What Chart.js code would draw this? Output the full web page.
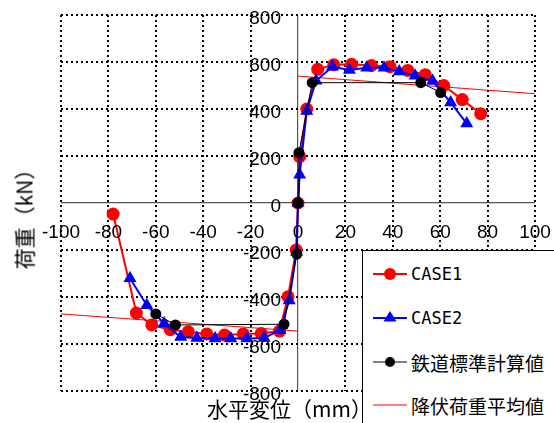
<!DOCTYPE html>
<html>
<head>
<meta charset="utf-8">
<script src="https://cdn.jsdelivr.net/npm/chart.js@4.4.0/dist/chart.umd.min.js"></script>
<style>
  body { margin: 0; background: #fff; }
  #wrap { position: relative; width: 554px; height: 423px; overflow: hidden; background: #fff; }
  .ttl { position: absolute; font-family: "Noto Sans CJK JP", sans-serif; font-size: 21px; color: #000; white-space: nowrap; line-height: 1; }
  #xTitle { left: 207px; top: 398px; }
  #yTitle { left: 24px; top: 214px; transform: translate(-50%, -50%) rotate(-90deg); }
  #legend { position: absolute; left: 362px; top: 250px; width: 230px; height: 200px; background: #fff; border: 1px solid #000; }
  .item { position: absolute; left: 10px; height: 24px; display: flex; align-items: center; white-space: nowrap; }
  .item svg { width: 34px; height: 24px; margin-right: 4px; }
  .lat { font-family: "DejaVu Sans Mono", monospace; font-size: 17px; }
  .cjk { font-family: "Noto Sans CJK JP", sans-serif; font-size: 19px; }
</style>
</head>
<body>
<div id="wrap">
  <canvas id="chart" width="554" height="423"></canvas>
  <div class="ttl" id="xTitle">水平変位（mm）</div>
  <div class="ttl" id="yTitle">荷重（kN）</div>
  <div id="legend"></div>
</div>
<script>
// 水平変位 (mm) / 荷重 (kN)
const case1X = [-78, -68.2, -61.7, -53.9, -46.3, -38.5, -31, -23.1, -15.5, -7.8, -4.2, -0.8, 0, 0.7, 3.7, 8.3, 15.1, 22.6, 31, 38.8, 46.3, 53.7, 61.5, 69.3, 77.1];
const case1Y = [-47, -468, -519, -539, -548, -557, -562, -557, -555, -545, -399, -200, 0, 197, 400, 569, 588, 590, 585, 580, 564, 546, 500, 440, 380];

const case2X = [-70.9, -63.8, -56.5, -49.5, -42.7, -35, -28.4, -21.6, -14.3, -7.6, -3.7, -0.6, 0, 0.7, 3.7, 7.6, 14.5, 21.7, 29, 36.3, 42.7, 49.4, 56.8, 64.4, 71.2];
const case2Y = [-320, -435, -513, -570, -574, -577, -577, -577, -574, -541, -415, -208, 0, 120, 392, 520, 580, 566, 576, 576, 560, 541, 519, 428, 338];

const calcX = [-60, -51.7, -5.9, -0.5, 0, 0.4, 6, 51.8, 60.2];
const calcY = [-472, -519, -516, -217, 0, 214, 512, 512, 470];

// two segments, null breaks the line
const avgX = [-100, 0, 0, 0, 100];
const avgY = [-472, -545, null, 540, 465];

const xTickLabels = ["-100", "-80", "-60", "-40", "-20", "0", "20", "40", "60", "80", "100"];
const yTickLabels = ["-800", "-600", "-400", "-200", "0", "200", "400", "600", "800"];

const seriesNames = ["CASE1", "CASE2", "鉄道標準計算値", "降伏荷重平均値"];

const toPoints = (xs, ys) => xs.map((x, i) => ({ x: x, y: ys[i] }));

// tick labels sit along the zero lines
const centerTicks = {
    id: "centerTicks",
    afterDatasetsDraw(chart) {
        const { ctx, scales: { x, y } } = chart;
        const x0 = x.getPixelForValue(0);
        const y0 = y.getPixelForValue(0);
        ctx.save();
        ctx.font = '19px "Liberation Sans", Arial, sans-serif';
        ctx.fillStyle = "#000";
        ctx.textBaseline = "alphabetic";
        ctx.textAlign = "center";
        xTickLabels.forEach((t) => {
            ctx.fillText(t, x.getPixelForValue(Number(t)), y0 + 35);
        });
        ctx.textAlign = "right";
        yTickLabels.forEach((t) => {
            ctx.fillText(t, x0 - 17, y.getPixelForValue(Number(t)) + 8.5);
        });
        ctx.restore();
    },
};

const gridOpts = {
    color: (c) => (c.tick && c.tick.value === 0 ? "#555" : "#000"),
    lineWidth: (c) => (c.tick && c.tick.value === 0 ? 1.2 : 2),
    drawTicks: false,
};
const borderOpts = {
    display: false,
    dash: (c) => (c.tick && c.tick.value === 0 ? [] : [2, 3]),
};

new Chart(document.getElementById("chart"), {
    type: "scatter",
    data: {
        datasets: [
            {
                label: seriesNames[0],
                data: toPoints(case1X, case1Y),
                showLine: true,
                borderColor: "#ff0000",
                backgroundColor: "#ff0000",
                borderWidth: 2,
                pointStyle: "circle",
                pointRadius: 6.5,
                pointBorderWidth: 0,
                order: 2,
            },
            {
                label: seriesNames[1],
                data: toPoints(case2X, case2Y),
                showLine: true,
                borderColor: "#0000ff",
                backgroundColor: "#0000ff",
                borderWidth: 2,
                pointStyle: "triangle",
                pointRadius: 7.5,
                pointBorderWidth: 0,
                order: 1,
            },
            {
                label: seriesNames[2],
                data: toPoints(calcX, calcY),
                showLine: true,
                borderColor: "#000",
                backgroundColor: "#000",
                borderWidth: 1,
                pointStyle: "circle",
                pointRadius: 5.5,
                pointBorderWidth: 0,
                order: 0,
            },
            {
                label: seriesNames[3],
                data: toPoints(avgX, avgY),
                showLine: true,
                spanGaps: false,
                borderColor: "#ff0000",
                borderWidth: 1,
                pointRadius: 0,
                order: 3,
            },
        ],
    },
    options: {
        responsive: false,
        animation: false,
        layout: { padding: { left: 61, right: 19, top: 15, bottom: 32 } },
        plugins: { legend: { display: false }, tooltip: { enabled: false } },
        scales: {
            x: {
                type: "linear",
                min: -100,
                max: 100,
                ticks: { display: false, stepSize: 20 },
                grid: gridOpts,
                border: borderOpts,
            },
            y: {
                type: "linear",
                min: -800,
                max: 800,
                ticks: { display: false, stepSize: 200 },
                grid: gridOpts,
                border: borderOpts,
            },
        },
    },
    plugins: [centerTicks],
});

// legend box (drawn over the lower right corner)
const legendMarks = [
    '<line x1="0" y1="12" x2="34" y2="12" stroke="#ff0000" stroke-width="2"/><circle cx="17" cy="12" r="6" fill="#ff0000"/>',
    '<line x1="0" y1="12" x2="34" y2="12" stroke="#0000ff" stroke-width="2"/><polygon points="17,5 23.5,15.5 10.5,15.5" fill="#0000ff"/>',
    '<line x1="0" y1="12" x2="34" y2="12" stroke="#000" stroke-width="1"/><circle cx="17" cy="12" r="5" fill="#000"/>',
    '<line x1="0" y1="12" x2="34" y2="12" stroke="#ff0000" stroke-width="1"/>',
];
const legendTops = [11, 55, 99, 142];
const legendEl = document.getElementById("legend");
seriesNames.forEach((name, i) => {
    const item = document.createElement("div");
    item.className = "item";
    item.style.top = legendTops[i] + "px";
    const cls = /^[A-Z0-9]+$/.test(name) ? "lat" : "cjk";
    item.innerHTML = '<svg viewBox="0 0 34 24">' + legendMarks[i] + '</svg><span class="' + cls + '">' + name + "</span>";
    legendEl.appendChild(item);
});
</script>
</body>
</html>
